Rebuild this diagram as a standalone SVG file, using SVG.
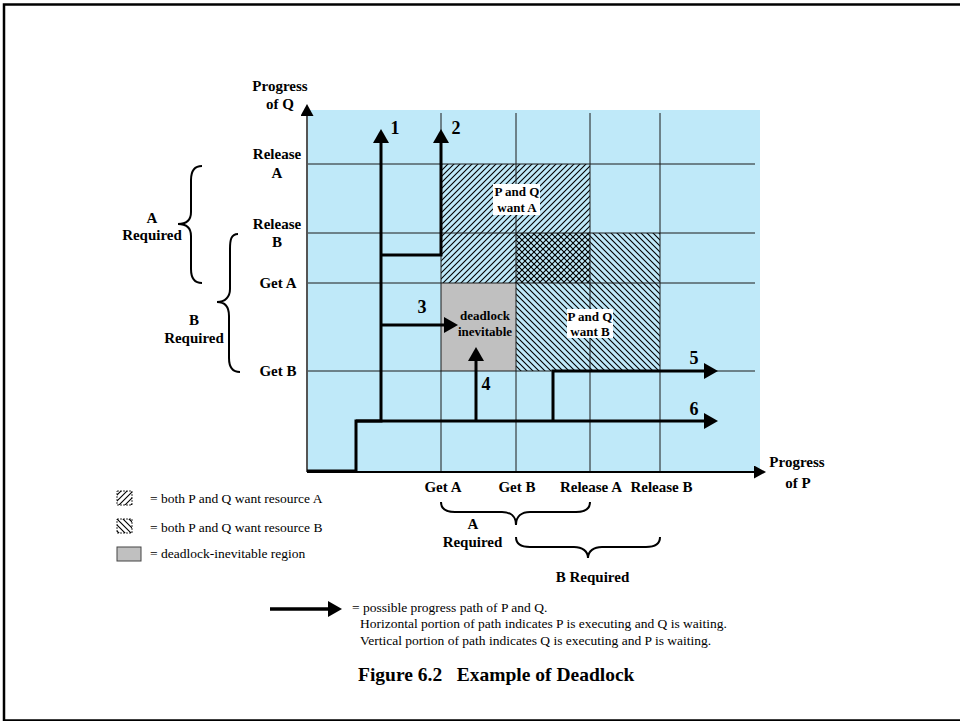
<svg xmlns="http://www.w3.org/2000/svg" width="960" height="721" viewBox="0 0 960 721">
<style>
.b{font-family:"Liberation Serif","Times New Roman",serif;font-weight:bold;font-size:15px;fill:#000;text-anchor:middle}
.r{font-family:"Liberation Serif","Times New Roman",serif;font-size:13.5px;fill:#000}
.n{font-family:"Liberation Serif","Times New Roman",serif;font-weight:bold;font-size:18px;fill:#000;text-anchor:middle}
.s{font-family:"Liberation Serif","Times New Roman",serif;font-weight:bold;font-size:13px;fill:#000;text-anchor:middle}
.grid{stroke:#1a1a1a;stroke-width:1;fill:none}
.path{stroke:#000;stroke-width:3;fill:none;stroke-linejoin:miter}
.brace{stroke:#000;stroke-width:2;fill:none}
.hatch{stroke:#000;stroke-width:1.1;fill:none}
</style>
<defs>
<pattern id="hA" width="6" height="6" patternUnits="userSpaceOnUse">
<path class="hatch" d="M-1,7 L7,-1 M-1,1 L1,-1 M5,7 L7,5"/>
</pattern>
<pattern id="hB" width="6" height="6" patternUnits="userSpaceOnUse">
<path class="hatch" d="M-1,-1 L7,7 M5,-1 L7,1 M-1,5 L1,7"/>
</pattern>
<marker id="ah" markerUnits="userSpaceOnUse" markerWidth="15" markerHeight="16" refX="0" refY="8" orient="auto">
<path d="M0,0 L14,8 L0,16 Z" fill="#000"/>
</marker>
<marker id="ax" markerUnits="userSpaceOnUse" markerWidth="12" markerHeight="14" refX="0" refY="6.5" orient="auto">
<path d="M0,0 L12,6.5 L0,13 Z" fill="#000"/>
</marker>
</defs>
<rect x="4" y="4.5" width="1000" height="716" fill="#fff" stroke="#000" stroke-width="2.5"/>

<g id="plot-background">
<rect x="307" y="110" width="453" height="362" fill="#bfe9f9"/>
</g>
<g id="region-want-A">
<rect x="441" y="164" width="149" height="119" fill="url(#hA)"/>
</g>
<g id="region-want-B">
<rect x="516" y="233" width="144" height="138" fill="url(#hB)"/>
</g>
<g id="region-deadlock">
<rect x="441" y="283" width="75" height="88" fill="#c0c0c0"/>
</g>
<g id="grid">
<path class="grid" d="M441,113 V472 M516,113 V472 M590,113 V472 M660,113 V472 M307,164 H755 M307,233 H755 M307,283 H755 M307,371 H755"/>
</g>
<g id="axes">
<path d="M307,472 V116" stroke="#555" stroke-width="2" fill="none" marker-end="url(#ax)"/>
<path d="M307,472 H754" stroke="#000" stroke-width="2" fill="none" marker-end="url(#ax)"/>
</g>

<g id="label-want-A">
<rect x="493" y="184" width="47" height="31" fill="#fff"/>
<text class="s" x="517" y="196">P and Q</text>
<text class="s" x="517" y="212">want A</text>
</g>
<g id="label-want-B">
<rect x="567" y="309" width="46" height="29" fill="#fff"/>
<text class="s" x="590" y="321">P and Q</text>
<text class="s" x="590" y="336">want B</text>
</g>
<g id="label-deadlock">
<text class="s" x="485" y="320">deadlock</text>
<text class="s" x="485" y="336">inevitable</text>
</g>

<g id="connectors">
<path class="path" d="M307,471 H356 V421 H381 V143" marker-end="url(#ah)"/>
<path class="path" d="M381,255 H441 V143" marker-end="url(#ah)"/>
<path class="path" d="M381,325 H444" marker-end="url(#ah)"/>
<path class="path" d="M476,421 V361" marker-end="url(#ah)"/>
<path class="path" d="M553,421 V371 H704" marker-end="url(#ah)"/>
<path class="path" d="M356,421 H704" marker-end="url(#ah)"/>
</g>

<g id="path-numbers">
<text class="n" x="395" y="134">1</text>
<text class="n" x="456" y="134">2</text>
<text class="n" x="422" y="313">3</text>
<text class="n" x="486" y="390">4</text>
<text class="n" x="694" y="364">5</text>
<text class="n" x="694" y="415">6</text>
</g>

<g id="y-axis-labels">
<text class="b" x="280" y="91">Progress</text>
<text class="b" x="280" y="109">of Q</text>
<text class="b" x="277" y="159">Release</text>
<text class="b" x="277" y="178">A</text>
<text class="b" x="277" y="229">Release</text>
<text class="b" x="277" y="247">B</text>
<text class="b" x="278" y="288">Get A</text>
<text class="b" x="278" y="376">Get B</text>
</g>
<g id="y-braces">
<path class="brace" d="M202,166 C194,166 191,171 191,180 L191,212 C191,220 186,224 178,224 C186,224 191,228 191,236 L191,269 C191,278 194,283 202,283"/>
<path class="brace" d="M238,234 C231,234 230,240 230,249 L230,289 C230,297 225,302 217,302 C225,302 229,307 229,316 L229,358 C229,367 232,372 240,372"/>
<text class="b" x="152" y="222.5">A</text>
<text class="b" x="152" y="240">Required</text>
<text class="b" x="194" y="325">B</text>
<text class="b" x="194" y="343">Required</text>
</g>

<g id="x-axis-labels">
<text class="b" x="797" y="467">Progress</text>
<text class="b" x="798" y="488">of P</text>
<text class="b" x="443" y="492">Get A</text>
<text class="b" x="517" y="492">Get B</text>
<text class="b" x="591" y="492">Release A</text>
<text class="b" x="661.5" y="492">Release B</text>
</g>
<g id="x-braces">
<path class="brace" d="M441,502 C441,509 446,512 455,512 L502,512 C510,512 516,516 516,525 C516,516 522,512 530,512 L576,512 C585,512 590,509 590,502"/>
<path class="brace" d="M516,537 C516,544 521,547 530,547 L574,547 C582,547 588,551 588,558 C588,551 594,547 602,547 L646,547 C655,547 660,544 660,537"/>
<text class="b" x="473" y="529">A</text>
<text class="b" x="472.5" y="547">Required</text>
<text class="b" x="592.5" y="581.5">B Required</text>
</g>

<g id="legend">
<rect x="117" y="491" width="15" height="14" fill="url(#hA)" stroke="#000" stroke-width="0.8" stroke-dasharray="2,1"/>
<text class="r" x="150" y="502.5">= both P and Q want resource A</text>
<rect x="117" y="519" width="15" height="14" fill="url(#hB)" stroke="#000" stroke-width="0.8" stroke-dasharray="2,1"/>
<text class="r" x="150" y="531.5">= both P and Q want resource B</text>
<rect x="117" y="547" width="24" height="14" fill="#c0c0c0" stroke="#444" stroke-width="1"/>
<text class="r" x="150" y="557.5">= deadlock-inevitable region</text>
<path d="M270,609 H328" stroke="#000" stroke-width="3.5" fill="none" marker-end="url(#ah)"/>
<text class="r" x="352" y="612">= possible progress path of P and Q.</text>
<text class="r" x="360" y="628">Horizontal portion of path indicates P is executing and Q is waiting.</text>
<text class="r" x="360" y="645">Vertical portion of path indicates Q is executing and P is waiting.</text>
</g>

<g id="caption">
<text x="358" y="681" style="font-family:'Liberation Serif','Times New Roman',serif;font-weight:bold;font-size:19.5px" xml:space="preserve">Figure 6.2   Example of Deadlock</text>
</g>
</svg>
